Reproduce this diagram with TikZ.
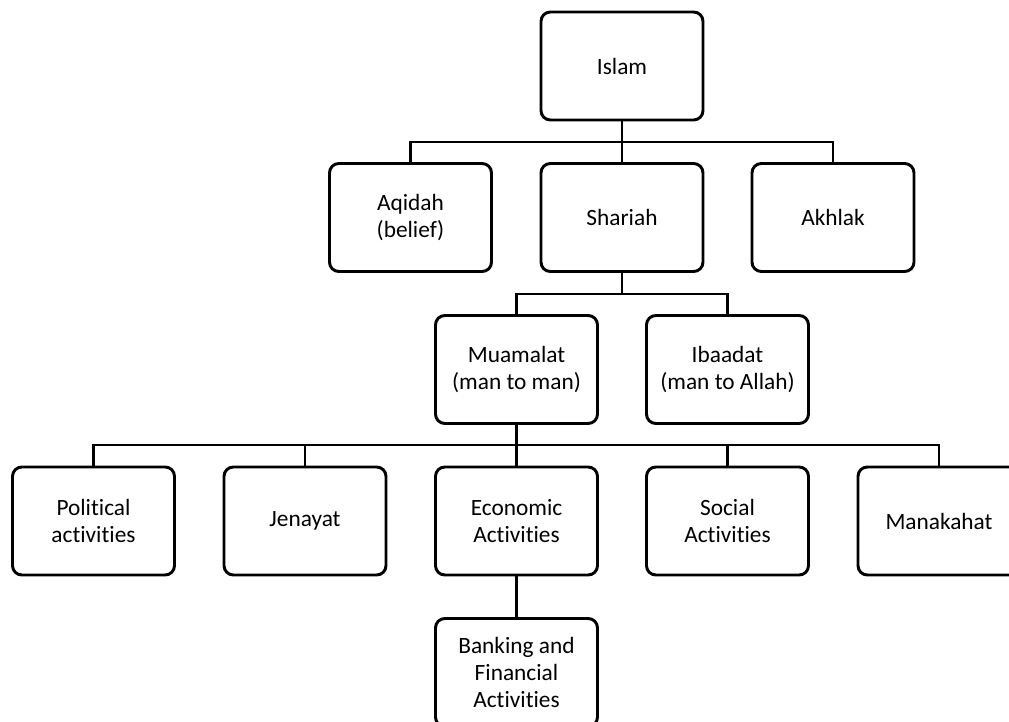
\documentclass[tikz,border=0pt]{standalone}
\usepackage{fontspec}
\setmainfont{Carlito}[Ligatures={NoCommon}]
\begin{document}
\begin{tikzpicture}[x=0.75pt,y=-0.75pt,
  box/.style={draw, line width=2.2pt, rounded corners=7pt, fill=white,
    minimum width=121.5pt, minimum height=81pt, inner sep=2pt,
    align=center, font=\fontsize{17.5pt}{20.25pt}\selectfont},
  link/.style={line width=2.2pt}]
\useasboundingbox (0,0) rectangle (1009,721);
\clip (0,0) rectangle (1009,721);

% level 0
\node[box] (islam) at (622,66) {Islam};
% level 1
\node[box] (aqidah)  at (410.5,217.5) {Aqidah\\(belief)};
\node[box] (shariah) at (622,217.5)   {Shariah};
\node[box] (akhlak)  at (833,217.5)   {Akhlak};
% level 2
\node[box] (muamalat) at (516.5,369.5) {Muamalat\\(man to man)};
\node[box] (ibaadat)  at (727.5,369.5) {Ibaadat\\(man to Allah)};
% level 3
\node[box] (political) at (93.5,521)  {Political\\activities};
\node[box] (jenayat)   at (305,521)   {Jenayat};
\node[box] (economic)  at (516.5,521) {Economic\\Activities};
\node[box] (social)    at (727.5,521) {Social\\Activities};
\node[box] (manakahat) at (939,521)   {Manakahat};
% level 4
\node[box] (banking) at (516.5,672.5) {Banking and\\Financial\\Activities};

% bus lines
\coordinate (bus1) at (0,142);
\coordinate (bus2) at (0,294);
\coordinate (bus3) at (0,445);

\draw[link] (islam.south) -- (shariah.north);
\draw[link] (aqidah.north) -- (aqidah.north |- bus1) -- (akhlak.north |- bus1) -- (akhlak.north);

\draw[link] (shariah.south) -- (shariah.south |- bus2);
\draw[link] (muamalat.north) -- (muamalat.north |- bus2) -- (ibaadat.north |- bus2) -- (ibaadat.north);

\draw[link] (muamalat.south) -- (economic.north);
\draw[link] (political.north) -- (political.north |- bus3) -- (manakahat.north |- bus3) -- (manakahat.north);
\draw[link] (jenayat.north) -- (jenayat.north |- bus3);
\draw[link] (social.north) -- (social.north |- bus3);

\draw[link] (economic.south) -- (banking.north);
\end{tikzpicture}
\end{document}
